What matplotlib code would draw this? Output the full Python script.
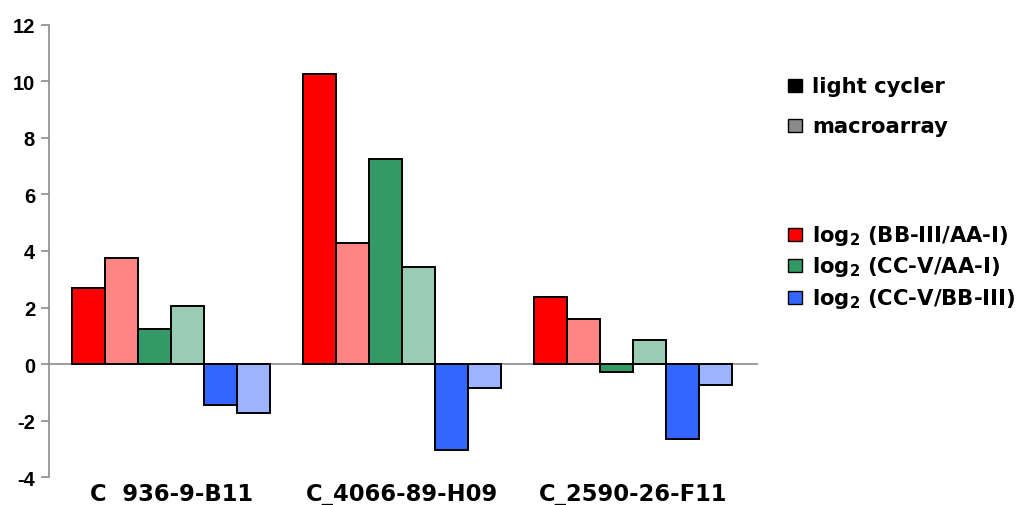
import matplotlib.pyplot as plt
import numpy as np
from matplotlib.patches import Rectangle

plt.rcParams["font.family"] = ["Liberation Sans", "DejaVu Sans"]
plt.rcParams["font.weight"] = "bold"
plt.rcParams["axes.unicode_minus"] = False
plt.rcParams["mathtext.fontset"] = "custom"
plt.rcParams["mathtext.rm"] = "DejaVu Sans:bold"
plt.rcParams["mathtext.it"] = "DejaVu Sans:bold"
plt.rcParams["mathtext.bf"] = "DejaVu Sans:bold"

clones = ["C  936-9-B11", "C_4066-89-H09", "C_2590-26-F11"]

# log2 ratios, light cycler (lc) vs macroarray (ma)
bb_aa_lc = [2.70, 10.27, 2.36]
bb_aa_ma = [3.77, 4.27, 1.59]
cc_aa_lc = [1.24, 7.25, -0.26]
cc_aa_ma = [2.06, 3.45, 0.84]
cc_bb_lc = [-1.44, -3.03, -2.63]
cc_bb_ma = [-1.72, -0.85, -0.74]

series = [bb_aa_lc, bb_aa_ma, cc_aa_lc, cc_aa_ma, cc_bb_lc, cc_bb_ma]
colors = ["#ff0000", "#ff8484", "#339966", "#99ccb3", "#3366ff", "#9cb4ff"]

legend_method = ["light cycler", "macroarray"]
legend_method_colors = ["#000000", "#8a8a8a"]
legend_ratio = ["log$_2$ (BB-III/AA-I)", "log$_2$ (CC-V/AA-I)", "log$_2$ (CC-V/BB-III)"]
legend_ratio_colors = ["#ff0000", "#339966", "#3366ff"]

fig = plt.figure(figsize=(10.25, 5.06), dpi=100)
ax = fig.add_axes([49 / 1025, 1 - 478.3 / 506, (758 - 49) / 1025, (478.3 - 25.7) / 506])

x = np.arange(len(clones))
width = 0.143
for i, (vals, col) in enumerate(zip(series, colors)):
    ax.bar(x + (i - 2.5) * width, vals, width, color=col, edgecolor="black",
           linewidth=1.4, zorder=3)

ax.axhline(0, color="#8c8c8c", linewidth=1.2, zorder=2)
ax.set_xlim(-0.529, 2.54)
ax.set_ylim(-4, 12)
ax.set_yticks(np.arange(-4, 13, 2))
ax.set_xticks(x, clones, family="DejaVu Sans")

for side in ("top", "right", "bottom"):
    ax.spines[side].set_visible(False)
ax.spines["left"].set_color("#8c8c8c")
ax.spines["left"].set_linewidth(1.2)
ax.tick_params(axis="y", length=6, width=1.2, color="#8c8c8c", labelsize=14.5, pad=4)
ax.tick_params(axis="x", length=0, labelsize=16.3, pad=3.5)

# legend drawn in figure pixels
def legend_entry(label, color, baseline_px, size):
    fig.add_artist(Rectangle((788 / 1025, 1 - baseline_px / 506), 14 / 1025, 13 / 506,
                             transform=fig.transFigure, facecolor=color,
                             edgecolor="black", linewidth=1.0))
    fig.text(812 / 1025, 1 - baseline_px / 506, label, fontsize=size,
             fontweight="bold", family="DejaVu Sans", va="baseline", ha="left")

for lab, col, y in zip(legend_method, legend_method_colors, [93.3, 133.3]):
    legend_entry(lab, col, y, 15.2)
for lab, col, y in zip(legend_ratio, legend_ratio_colors, [241.7, 273.3, 305]):
    legend_entry(lab, col, y, 15.2)

fig.savefig("out.png", dpi=100)
